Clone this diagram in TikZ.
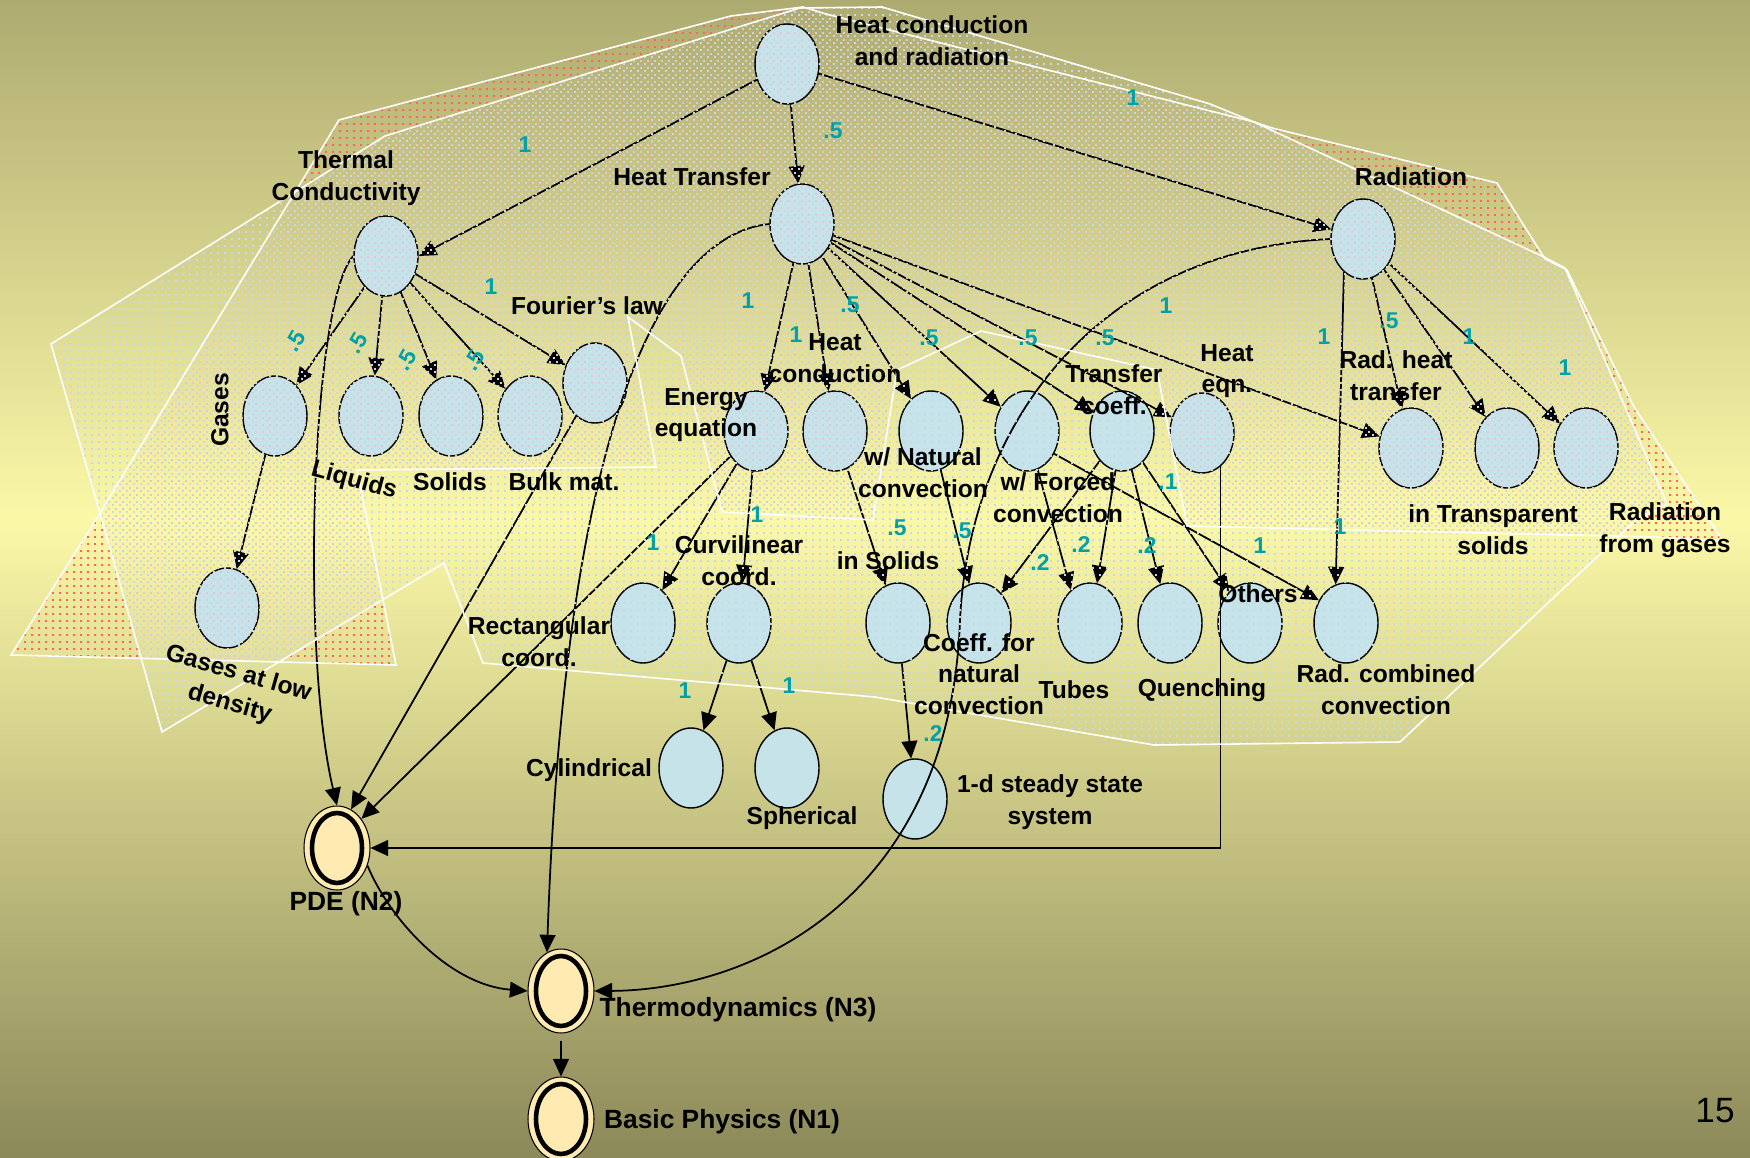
\documentclass[tikz,border=0pt]{standalone}
\usepackage{fontspec}
\setmainfont{Liberation Sans}
\usetikzlibrary{shapes.geometric, arrows.meta, patterns}
\definecolor{bgtop}{RGB}{174,171,113}
\definecolor{bgmid}{RGB}{251,248,168}
\definecolor{bgbot}{RGB}{140,137,90}
\definecolor{nodeblue}{RGB}{197,227,232}
\definecolor{cream}{RGB}{255,234,178}
\definecolor{wtcol}{RGB}{0,160,168}
\definecolor{dotblue}{RGB}{196,218,236}
\definecolor{dotpink}{RGB}{226,200,206}
\definecolor{dotred}{RGB}{255,100,90}
\pgfdeclarepatternformonly{bdots}{\pgfqpoint{0pt}{0pt}}{\pgfqpoint{4pt}{4pt}}{\pgfqpoint{4pt}{4pt}}{\pgfpathrectangle{\pgfqpoint{0pt}{0pt}}{\pgfqpoint{1.2pt}{1.2pt}}\pgfusepath{fill}}
\pgfdeclarepatternformonly{rdots}{\pgfqpoint{0pt}{0pt}}{\pgfqpoint{4pt}{4pt}}{\pgfqpoint{4pt}{4pt}}{\pgfpathrectangle{\pgfqpoint{2pt}{2pt}}{\pgfqpoint{1.2pt}{1.2pt}}\pgfusepath{fill}}
\def\Rpath{(339,120) -- (731,16) -- (803,7) -- (826,14) -- (1254,122) -- (1272,128) -- (1497,183) -- (1545,259) -- (1567,270) -- (1634,407) -- (1723,541) -- (1656,537) -- (1187,526) -- (1157,370) -- (981,331) -- (897,370) -- (873,520) -- (722,512) -- (681,356) -- (628,317) -- (656,467) -- (357,470) -- (396,665) -- (11,655) -- (100,513) -- cycle}
\def\Bpath{(51,344) -- (385,136) -- (800,8) -- (882,7) -- (1210,104) -- (1254,122) -- (1544,257) -- (1565,268) -- (1667,504) -- (1634,522) -- (1400,742) -- (1154,745) -- (875,697) -- (483,663) -- (444,563) -- (162,732) -- (100,513) -- cycle}
\begin{document}
\begin{tikzpicture}[x=0.02cm,y=-0.02cm,
  cnode/.style={ellipse, draw=black, line width=0.8pt, fill=nodeblue, minimum width=1.28cm, minimum height=1.6cm, inner sep=0pt},
  nnode/.style={ellipse, draw=black, line width=0.6pt, fill=cream, minimum width=1.32cm, minimum height=1.68cm, inner sep=0pt},
  lbl/.style={font=\fontsize{14}{18}\selectfont\bfseries, align=center, inner sep=0pt},
  nlbl/.style={font=\fontsize{15}{18}\selectfont\bfseries, align=center, inner sep=0pt},
  wt/.style={font=\fontsize{13}{15}\selectfont\bfseries, text=wtcol, inner sep=0pt},
  arr/.style={line width=1pt, -{Triangle[length=10pt,width=9pt]}},
  polyline/.style={draw=white, line width=0.9pt, line join=miter}
]
\useasboundingbox (0,0) rectangle (1750,1158);
\shade[top color=bgtop, bottom color=bgmid] (0,0) rectangle (1750,520);
\shade[top color=bgmid, bottom color=bgbot] (0,519) rectangle (1750,1158);

% ---------- concept nodes ----------
\node[cnode] (HCR) at (787,64) {};
\node[cnode] (HT) at (802,224) {};
\node[cnode] (Rad) at (1363,239) {};
\node[cnode] (TC) at (386,256) {};
\node[cnode] (Gases) at (275,416) {};
\node[cnode] (Liquids) at (371,416) {};
\node[cnode] (Solids) at (451,416) {};
\node[cnode] (Bulk) at (530,416) {};
\node[cnode] (Fourier) at (595,383) {};
\node[cnode] (GLD) at (227,608) {};
\node[cnode] (Energy) at (756,431) {};
\node[cnode] (HCond) at (835,431) {};
\node[cnode] (Natural) at (931,431) {};
\node[cnode] (Forced) at (1027,431) {};
\node[cnode] (TCoeff) at (1122,431) {};
\node[cnode] (HeatEqn) at (1202,433) {};
\node[cnode] (RadHT) at (1411,448) {};
\node[cnode] (Transp) at (1507,448) {};
\node[cnode] (RadGas) at (1586,448) {};
\node[cnode] (Rect) at (643,623) {};
\node[cnode] (Curv) at (739,623) {};
\node[cnode] (InSolids) at (898,623) {};
\node[cnode] (CoeffNat) at (979,623) {};
\node[cnode] (Tubes) at (1090,623) {};
\node[cnode] (Quench) at (1170,623) {};
\node[cnode] (Others) at (1250,623) {};
\node[cnode] (RadComb) at (1346,623) {};
\node[cnode] (Cyl) at (691,768) {};
\node[cnode] (Sph) at (787,768) {};
\node[cnode] (OneD) at (915,799) {};

\node[nnode] (PDE) at (337,848) {};
\draw[line width=2.6pt, fill=cream] (PDE.center) ellipse [x radius=0.5cm, y radius=0.7cm];
\node[nnode] (Thermo) at (561,991) {};
\draw[line width=2.6pt, fill=cream] (Thermo.center) ellipse [x radius=0.5cm, y radius=0.7cm];
\node[nnode] (Basic) at (561,1119) {};
\draw[line width=2.6pt, fill=cream] (Basic.center) ellipse [x radius=0.5cm, y radius=0.7cm];

% ---------- connectors ----------
\draw[arr] (HCR) -- (TC.east);
\draw[arr] (HCR) -- (HT);
\draw[arr] (HCR) -- (Rad);
\draw[arr] (TC) -- (Gases);
\draw[arr] (TC) -- (Liquids);
\draw[arr] (TC) -- (Solids);
\draw[arr] (TC) -- (Bulk);
\draw[arr] (TC) -- (Fourier);
\draw[arr] (TC.west) .. controls (312,300) and (300,650) .. (PDE.north);
\draw[arr] (Gases) -- (GLD);
\draw[arr] (Fourier) -- (PDE.70);
\draw[arr] (HT) -- (Energy);
\draw[arr] (HT) -- (HCond);
\draw[arr] (HT) -- (Natural);
\draw[arr] (HT) -- (Forced);
\draw[arr] (HT) -- (TCoeff);
\draw[arr] (HT) -- (HeatEqn);
\draw[arr] (HT) -- (RadHT);
\draw[arr] (HT.west) .. controls (660,235) and (565,430) .. (Thermo.110);
\draw[arr] (Rad) -- (RadHT);
\draw[arr] (Rad) -- (Transp);
\draw[arr] (Rad) -- (RadGas);
\draw[arr] (Rad.240) -- (RadComb.105);
\draw[arr] (Rad.west) .. controls (1100,250) and (970,420) .. (960,620) .. controls (950,900) and (750,990) .. (Thermo.east);
\draw[arr] (Energy) -- (Rect);
\draw[arr] (Energy) -- (Curv);
\draw[arr] (Energy) -- (PDE.50);
\draw[arr] (Curv) -- (Cyl);
\draw[arr] (Curv) -- (Sph);
\draw[arr] (HCond) -- (InSolids);
\draw[arr] (Natural) -- (CoeffNat);
\draw[arr] (Forced) -- (Tubes.120);
\draw[arr] (Forced.-40) -- (RadComb.140);
\draw[arr] (TCoeff) -- (CoeffNat);
\draw[arr] (TCoeff) -- (Tubes.80);
\draw[arr] (TCoeff) -- (Quench);
\draw[arr] (TCoeff) -- (Others);
\draw[arr] (HeatEqn.-61) |- (PDE.east);
\draw[arr] (InSolids) -- (OneD);
\draw[arr] (PDE.-30) .. controls (390,920) and (450,985) .. (Thermo.west);
\draw[arr, shorten <=4pt] (Thermo) -- (Basic);

% ---------- dotted regions ----------
\path[pattern=rdots, pattern color=dotpink] \Rpath;
\begin{scope}[even odd rule]
  \clip (-20,-20) rectangle (1770,1180) \Bpath;
  \path[pattern=rdots, pattern color=dotred] \Rpath;
\end{scope}
\path[pattern=bdots, pattern color=dotblue] \Bpath;
\draw[polyline] \Rpath;
\draw[polyline] \Bpath;

% ---------- node texts ----------
\node[lbl] (tHCR) at (932,41) {Heat conduction\\and radiation};
\node[lbl] (tHT) at (692,177) {Heat Transfer};
\node[lbl] (tRad) at (1411,177) {Radiation};
\node[lbl] (tTC) at (346,178) {Thermal\\Conductivity};
\node[lbl, rotate=90] (tGases) at (220,410) {Gases};
\node[lbl, rotate=-15] (tLiquids) at (354,481) {Liquids};
\node[lbl] (tSolids) at (450,482) {Solids};
\node[lbl] (tBulk) at (564,482) {Bulk mat.};
\node[lbl] (tFourier) at (587,306) {Fourier{\char"0027}s law};
\node[lbl, rotate=-16] (tGLD) at (234,689) {Gases at low\\density};
\node[lbl] (tEnergy) at (706,415) {Energy\\equation};
\node[lbl] (tHCond) at (835,358) {Heat\\conduction};
\node[lbl] (tNatural) at (923,473) {w/ Natural\\convection};
\node[lbl] (tForced) at (1058,498) {w/ Forced\\convection};
\node[lbl] (tTCoeff) at (1114,390) {Transfer\\coeff.};
\node[lbl] (tHeatEqn) at (1227,371) {Heat\\eqn.};
\node[lbl] (tRadHT) at (1396,376) {Rad. heat\\transfer};
\node[lbl] (tTransp) at (1493,530) {in Transparent\\solids};
\node[lbl] (tRadGas) at (1665,530) {Radiation\\from gases};
\node[lbl] (tRect) at (539,642) {Rectangular\\coord.};
\node[lbl] (tCurv) at (739,561) {Curvilinear\\coord.};
\node[lbl] (tInSolids) at (888,561) {in Solids};
\node[lbl] (tCoeffNat) at (979,674) {Coeff. for\\natural\\convection};
\node[lbl] (tTubes) at (1074,690) {Tubes};
\node[lbl] (tQuench) at (1202,690) {Quenching};
\node[lbl] (tOthers) at (1258,594) {Others};
\node[lbl] (tRadComb) at (1386,690) {Rad. combined\\convection};
\node[lbl] (tCyl) at (589,770) {Cylindrical};
\node[lbl] (tSph) at (802,818) {Spherical};
\node[lbl] (tOneD) at (1050,802) {1-d steady state\\system};
\node[nlbl] (tPDE) at (346,904) {PDE (N2)};
\node[nlbl] (tThermo) at (738,1010) {Thermodynamics (N3)};
\node[nlbl] (tBasic) at (722,1122) {Basic Physics (N1)};
\node[font=\fontsize{20}{22}\selectfont, inner sep=0pt] (page) at (1715,1111) {15};

% ---------- weights ----------
\node[wt] (w1) at (525,145) {1};
\node[wt] (w2) at (833,131) {.5};
\node[wt] (w3) at (1133,98) {1};
\node[wt, rotate=60] (w4) at (295,341) {.5};
\node[wt, rotate=60] (w5) at (357,343) {.5};
\node[wt, rotate=60] (w6) at (406,360) {.5};
\node[wt, rotate=60] (w7) at (474,360) {.5};
\node[wt] (w8) at (491,287) {1};
\node[wt] (w9) at (748,301) {1};
\node[wt] (w10) at (796,335) {1};
\node[wt] (w11) at (850,305) {.5};
\node[wt] (w12) at (929,338) {.5};
\node[wt] (w13) at (1028,338) {.5};
\node[wt] (w14) at (1105,338) {.5};
\node[wt] (w15) at (1166,306) {1};
\node[wt] (w16) at (1324,337) {1};
\node[wt] (w17) at (1389,321) {.5};
\node[wt] (w18) at (1469,337) {1};
\node[wt] (w19) at (1565,368) {1};
\node[wt] (w20) at (1340,527) {1};
\node[wt] (w21) at (1260,546) {1};
\node[wt] (w22) at (1168,482) {.1};
\node[wt] (w23) at (1147,546) {.2};
\node[wt] (w24) at (1081,545) {.2};
\node[wt] (w25) at (1040,563) {.2};
\node[wt] (w26) at (897,528) {.5};
\node[wt] (w27) at (962,531) {.5};
\node[wt] (w28) at (653,543) {1};
\node[wt] (w29) at (757,515) {1};
\node[wt] (w30) at (685,691) {1};
\node[wt] (w31) at (789,686) {1};
\node[wt] (w32) at (933,734) {.2};
\end{tikzpicture}
\end{document}
